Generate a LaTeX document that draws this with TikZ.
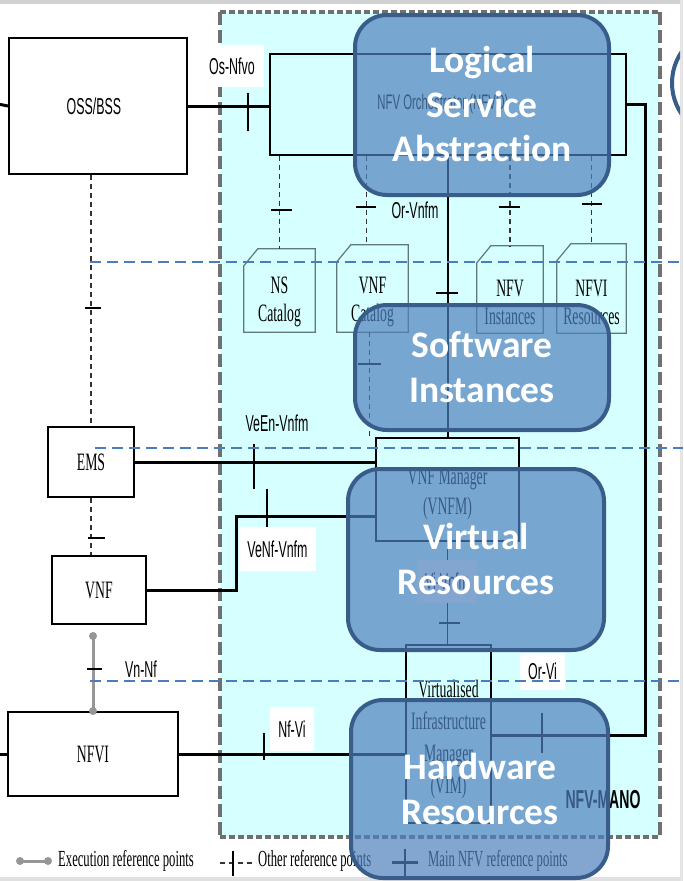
\documentclass[tikz,border=0pt]{standalone}
\usepackage{fontspec}
\setmainfont{Liberation Serif}
\newfontfamily\narrow[FakeStretch=0.54]{Liberation Sans}
\newfontfamily\nserif[FakeStretch=0.55]{Liberation Serif}
\newfontfamily\layerfont[Ligatures=NoCommon]{Carlito}
\usetikzlibrary{calc}
\definecolor{manocyan}{RGB}{214,255,255}
\definecolor{manogray}{RGB}{112,112,112}
\definecolor{layerfill}{RGB}{79,129,189}
\definecolor{layerdraw}{RGB}{56,93,138}
\definecolor{sepblue}{RGB}{74,126,187}
\definecolor{catgray}{RGB}{96,120,120}
\definecolor{execgray}{RGB}{150,150,150}
\newcommand\catbox[5]{%
  \node[hid, minimum width=#4pt, minimum height=#5pt] (#1) at (#2,#3) {};
  \draw[catshape] ($(#1.north west)+(0,17)$) -- ($(#1.north west)+(14,0)$) -- (#1.north east) -- (#1.south east) -- (#1.south west) -- cycle;}
\begin{document}
\begin{tikzpicture}[x=1pt,y=-1pt,
  box/.style={draw=black, line width=2pt, inner sep=0pt},
  thinbox/.style={draw=black, line width=1.2pt, inner sep=0pt},
  hid/.style={inner sep=0pt},
  lbl/.style={font=\narrow\fontsize{23}{25}\selectfont, inner sep=0pt},
  stxt/.style={font=\nserif\fontsize{25}{28}\selectfont, inner sep=0pt, align=center},
  wlbl/.style={lbl, fill=white},
  mainline/.style={line width=3pt},
  thinline/.style={line width=1.3pt},
  otherline/.style={line width=1.1pt, draw=black!80, dash pattern=on 5pt off 4pt},
  tickmark/.style={line width=2.5pt},
  thintick/.style={line width=1.4pt},
  catshape/.style={draw=catgray, line width=1.2pt},
  sepline/.style={draw=sepblue, line width=1.3pt, dash pattern=on 11pt off 6pt},
  layer/.style={draw=layerdraw, line width=4pt, fill=layerfill, fill opacity=0.7, rounded corners=32pt},
  layertxt/.style={font=\layerfont\bfseries\fontsize{37.5}{44.5}\selectfont, text=white, align=center, inner sep=0pt},
  legtxt/.style={font=\nserif\fontsize{23}{25}\selectfont, inner sep=0pt, anchor=west},
]
\useasboundingbox (0,0) rectangle (683,881);
\fill[white] (0,0) rectangle (683,881);
\fill[black!18] (0,0) rectangle (683,4);
\fill[black!12] (0,877) rectangle (683,881);
\fill[black!10] (680,0) rectangle (683,881);

% NFV-MANO area
\fill[manocyan] (220,12) rectangle (660,837);
\draw[manogray, line width=4.5pt, dash pattern=on 6pt off 3pt] (220,12) -- (660,12) (220,837) -- (660,837);
\draw[manogray, line width=4.5pt, dash pattern=on 13pt off 5pt] (220,12) -- (220,837) (660,12) -- (660,837);

% boxes
\node[box, minimum width=178pt, minimum height=136pt, font=\narrow\fontsize{23}{25}\selectfont] (oss) at (98,106) {\hspace*{-8pt}OSS/BSS};
\node[thinbox, minimum width=356pt, minimum height=101pt, font=\narrow\fontsize{21}{22}\selectfont] (nfvo) at (448,104.5) {\hspace*{-10pt}NFV Orchestrator (NFVO)};
\node[box, minimum width=86pt, minimum height=70pt, stxt] (ems) at (91,462) {EMS};
\node[box, minimum width=94pt, minimum height=68pt, stxt] (vnf) at (99,590) {VNF};
\node[box, minimum width=170pt, minimum height=84pt, stxt] (nfvi) at (93,754) {NFVI};
\node[thinbox, minimum width=143pt, minimum height=103pt] (vnfm) at (447.5,489.5) {};
\node[stxt, font=\nserif\fontsize{25}{30}\selectfont] (vnfmT) at (447.5,494) {VNF Manager\\(VNFM)};
\node[thinbox, minimum width=85pt, minimum height=178pt] (vim) at (448.5,734) {};
\node[stxt, font=\nserif\fontsize{25}{32}\selectfont] (vimT) at (448.5,739) {Virtualised\\Infrastructure\\Manager\\(VIM)};

% catalogs
\catbox{nscat}{279.5}{290.5}{71}{83}
\catbox{vnfcat}{372.5}{288.5}{71}{87}
\catbox{nfvinst}{510}{289.5}{66}{87}
\catbox{nfvires}{591.5}{288.5}{69}{89}
\node[stxt] (nscatT) at (279.5,302) {NS\\Catalog};
\node[stxt] (vnfcatT) at (372.5,302) {VNF\\Catalog};
\node[stxt] (nfvinstT) at (510,302) {NFV\\Instances};
\node[stxt] (nfviresT) at (591.5,302) {NFVI\\Resources};

% other reference points (dashed)
\draw[otherline] (nfvo.south -| nscat.north) -- (nscat.north);
\draw[otherline] ($(nfvo.south -| vnfcat.north)+(-6,0)$) -- ($(vnfcat.north)+(-6,0)$);
\draw[otherline] (nfvo.south -| nfvinst.north) -- (nfvinst.north);
\draw[otherline] (nfvo.south -| nfvires.north) -- (nfvires.north);
\draw[otherline] ($(vnfcat.south)+(-3,0)$) -- ($(vnfcat.south |- vnfm.north)+(-3,0)$);
\draw[otherline] (ems.north |- oss.south) -- (ems.north);
\draw[otherline] (ems.south) -- (ems.south |- vnf.north);
\draw[tickmark] (271,210) -- (292,210);
\draw[tickmark] (356,207) -- (376,207);
\draw[tickmark] (499,207) -- (520,207);
\draw[tickmark] (582,204) -- (602,204);
\draw[line width=2pt] (358,364) -- (381,364);
\draw[tickmark] (85,308) -- (101,308);
\draw[tickmark] (88,538) -- (105,538);

% execution reference point Vn-Nf
\coordinate (vnA) at ($(nfvi.north |- vnf.south)+(0,11)$);
\draw[execgray, line width=3pt] (vnA) -- (nfvi.north);
\fill[execgray] (vnA) circle (4pt) (nfvi.north) circle (4pt);
\draw[tickmark] (87,669) -- (102,669);

% main reference points
\draw[mainline] (oss.east) -- (oss.east -| nfvo.west);
\draw[thintick] (248,93) -- (248,131);
\draw[mainline] (ems.east) -- (ems.east -| vnfm.west);
\draw[thintick] (254,444) -- (254,489);
\coordinate (vnf1) at (236,590);
\coordinate (vnf2) at (236,516);
\draw[mainline] (vnf.east) -- (vnf1) -- (vnf2) -- (vnf2 -| vnfm.west);
\draw[thintick] (267,489) -- (267,528);
\draw[mainline] (nfvi.east) -- (nfvi.east -| vim.west);
\draw[thintick] (264,733) -- (264,760);
\draw[mainline] (-2,754) -- (nfvi.west);
\draw[mainline] (-2,104) -- (oss.west);
\coordinate (orvi1) at (645,104.5);
\coordinate (orvi2) at (645,735);
\draw[mainline] (nfvo.east) -- (orvi1) -- (orvi2) -- (orvi2 -| vim.east);
\draw[thintick] (542,713) -- (542,753);
\draw[thinline] (nfvo.south) -- (nfvo.south |- vnfm.north);
\draw[tickmark] (436,293) -- (458,293);
\draw[thinline] (vnfm.south) -- (vnfm.south |- vim.north);
\draw[line width=2pt] (439,623) -- (460,623);

% labels
\node[wlbl, minimum width=64pt, minimum height=42pt] (lOsNfvo) at (232,66) {Os-Nfvo};
\node[lbl] (lOrVnfm) at (415,210) {Or-Vnfm};
\node[lbl] (lVeEn) at (277,423) {VeEn-Vnfm};
\node[wlbl, minimum width=77pt, minimum height=44pt] (lVeNf) at (277.5,549) {VeNf-Vnfm};
\node[wlbl, minimum width=60pt, minimum height=43pt] (lViVnfm) at (447,581.5) {Vi-Vnfm};
\node[lbl] (lVnNf) at (141,669) {Vn-Nf};
\node[wlbl, minimum width=44pt, minimum height=44pt] (lNfVi) at (292,729) {Nf-Vi};
\node[wlbl, minimum width=45pt, minimum height=37pt] (lOrVi) at (542.5,671.5) {Or-Vi};
\node[lbl, font=\narrow\bfseries\fontsize{26}{28}\selectfont] (lMano) at (603,800) {NFV-MANO};

% legend
\coordinate (lgA) at (20,861);
\coordinate (lgB) at (48,861);
\draw[execgray, line width=3pt] (lgA) -- (lgB);
\fill[execgray] (lgA) circle (4pt) (lgB) circle (4pt);
\node[legtxt] (legExec) at (58,861) {Execution reference points};
\coordinate (lgC) at (220,863);
\coordinate (lgD) at (256,863);
\draw[otherline] (lgC) -- (lgD);
\draw[thintick] (233,851) -- (233,876);
\node[legtxt] (legOther) at (258,861) {Other reference points};
\coordinate (lgE) at (392,862);
\coordinate (lgF) at (418,862);
\draw[line width=3pt] (lgE) -- (lgF);
\draw[line width=2pt] (405,849) -- (405,876);
\node[legtxt] (legMain) at (428,861) {Main NFV reference points};

% layer separators
\draw[sepline] (90,262) -- (683,262);
\draw[sepline] (95,448) -- (683,448);
\draw[sepline] (90,681) -- (683,681);

% layers
\draw[layer] (355,15) rectangle (609,195);
\node[layertxt] (tLSA) at (482,104) {Logical\\Service\\Abstraction};
\draw[layer] (355,305) rectangle (609,430);
\node[layertxt] (tSWI) at (482,367) {Software\\Instances};
\draw[layer] (348,469) rectangle (604,650);
\node[layertxt] (tVR) at (476,559) {Virtual\\Resources};
\draw[layer] (351,700) rectangle (608,878);
\node[layertxt] (tHWR) at (480,789) {Hardware\\Resources};

% partial shape at right edge
\begin{scope}
\clip (0,0) rectangle (680,881);
\draw[layerdraw, line width=4pt] (727,83) circle (55pt);
\end{scope}
\end{tikzpicture}
\end{document}
